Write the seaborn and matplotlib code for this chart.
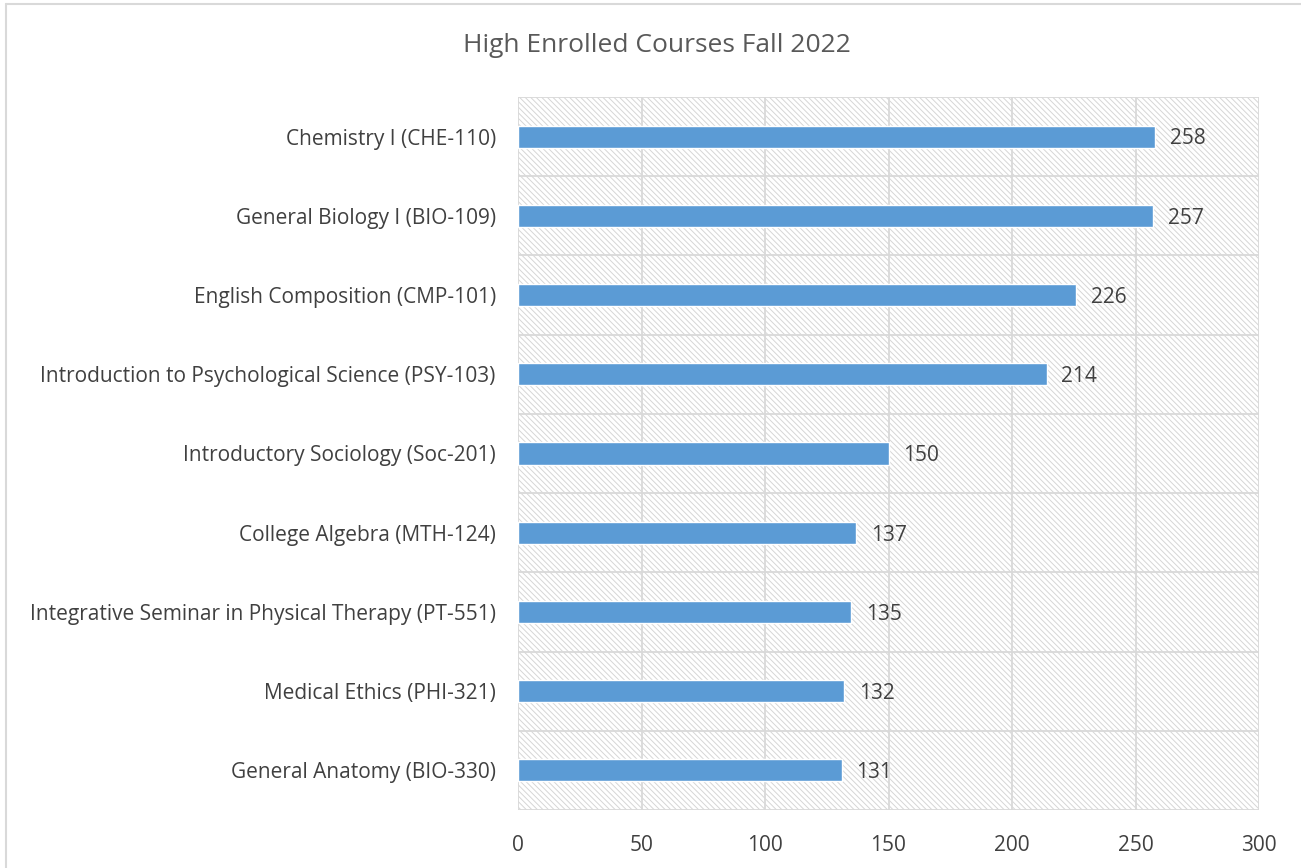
import matplotlib.pyplot as plt
import seaborn as sns
import pandas as pd
from matplotlib.patches import Rectangle
from matplotlib.lines import Line2D

courses = [
    "Chemistry I (CHE-110)",
    "General Biology I (BIO-109)",
    "English Composition (CMP-101)",
    "Introduction to Psychological Science (PSY-103)",
    "Introductory Sociology (Soc-201)",
    "College Algebra (MTH-124)",
    "Integrative Seminar in Physical Therapy (PT-551)",
    "Medical Ethics (PHI-321)",
    "General Anatomy (BIO-330)",
]
enrolled = [258, 257, 226, 214, 150, 137, 135, 132, 131]
x_ticks = [0, 50, 100, 150, 200, 250, 300]

df = pd.DataFrame({"course": courses, "enrolled": enrolled})

sns.set_style("white")
plt.rcParams['font.family'] = ['Open Sans', 'DejaVu Sans']
plt.rcParams['hatch.linewidth'] = 0.7

fig = plt.figure(figsize=(13.01, 8.68), dpi=100)
ax = fig.add_axes([518 / 1301, 1 - 810 / 868, (1259 - 518) / 1301, (810 - 97) / 868])

# hatched background like the Excel plot area
bg = Rectangle((0, 0), 1, 1, transform=ax.transAxes, facecolor="white",
               edgecolor="#d6d6d6", hatch="\\" * 6, linewidth=0, zorder=0)
ax.add_patch(bg)

sns.barplot(data=df, x="enrolled", y="course", orient="h", color="#5B9BD5",
            width=0.28, saturation=1, ax=ax, zorder=3)

ax.set_xlim(0, 300)
ax.set_ylim(len(courses) - 0.5, -0.5)
ax.set_xticks(x_ticks)
ax.set_xticklabels([str(t) for t in x_ticks])
ax.set_xlabel("")
ax.set_ylabel("")

grid_c = "#d9d9d9"
for t in x_ticks:
    ax.axvline(t, color=grid_c, lw=1.3, zorder=1)
for b in range(len(courses) + 1):
    ax.axhline(b - 0.5, color=grid_c, lw=1.3, zorder=1)

ax.set_yticks([b - 0.5 for b in range(len(courses) + 1)], minor=True)
ax.tick_params(axis="y", which="minor", length=10, color=grid_c, width=1.3)
ax.tick_params(axis="y", which="major", length=0, pad=16, labelsize=15, labelcolor="#404040")
ax.tick_params(axis="x", length=0, pad=18, labelsize=15, labelcolor="#404040")

for s in ax.spines.values():
    s.set_visible(False)

for i, v in enumerate(enrolled):
    ax.text(v + 6, i + 0.03, str(v), va="center", ha="left", fontsize=15, color="#404040", zorder=4)

fig.text(657 / 1301, 1 - 45 / 868, "High Enrolled Courses Fall 2022", ha="center", va="center",
         fontsize=19, color="#595959")

# chart outer border
fig.add_artist(Line2D([6 / 1301, 1], [1 - 4 / 868, 1 - 4 / 868], color=grid_c, lw=1.5))
fig.add_artist(Line2D([6 / 1301, 6 / 1301], [0, 1 - 4 / 868], color=grid_c, lw=1.5))

fig.savefig("out.png", dpi=100)
